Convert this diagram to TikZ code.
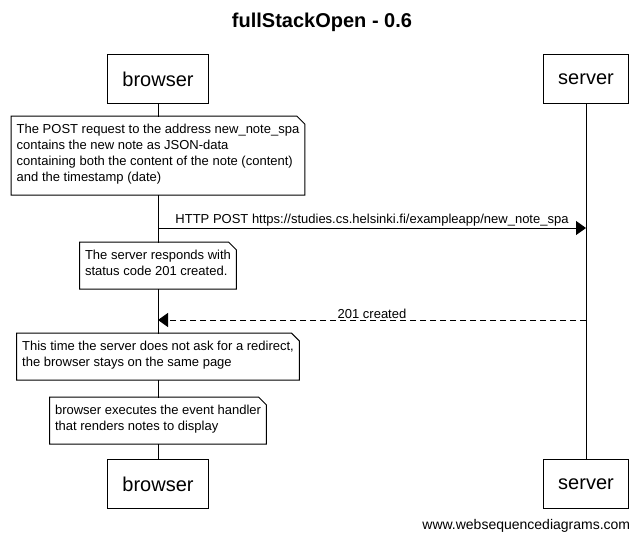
\documentclass[tikz,border=0pt]{standalone}
\usepackage{fontspec}
\setmainfont[Ligatures=NoCommon]{Liberation Sans}
\usetikzlibrary{arrows.meta}

\tikzset{
  actor/.style={draw, fill=white, inner xsep=15pt, minimum height=49pt, font=\fontsize{20}{24}\selectfont},
  note/.style={fill=white, anchor=north, align=left, inner xsep=5pt, inner ysep=8pt,
    font=\fontsize{13}{16}\selectfont, execute at begin node=\strut, execute at end node=\strut},
  msg/.style={-{Triangle[length=10pt, width=14pt]}},
  reply/.style={msg, dash pattern=on 6pt off 4pt},
  msglabel/.style={above, inner sep=1pt, font=\fontsize{13}{16}\selectfont},
}

\begin{document}
\begin{tikzpicture}[x=1pt, y=-1pt, line width=1pt]
    \useasboundingbox (0,0) rectangle (644,541);
    \node (title) at (322,22){\fontsize{20}{24}\selectfont\bfseries fullStackOpen - 0.6};
    % participants
    \node[actor, anchor=north] (B) at (158,54){browser};
    \node[actor, anchor=north] (S) at (586,54){server};
    \node[actor, anchor=north] (B2) at (158,459){browser};
    \node[actor, anchor=north] (S2) at (586,459){server};
    \draw (B)--(B2);
    \draw (S)--(S2);
    % notes over browser
    \node[note] (n1) at (158,116){The POST request to the address new\_note\_spa\\contains the new note as JSON-data\\containing both the content of the note (content)\\and the timestamp (date)};
    \node[note] (n2) at (158,242){The server responds with\\status code 201 created.};
    \node[note] (n3) at (158,333){This time the server does not ask for a redirect,\\the browser stays on the same page};
    \node[note] (n4) at (158,397){browser executes the event handler\\that renders notes to display};
    \foreach \n in {n1,n2,n3,n4}
      \draw ([xshift=-8pt]\n.north east) -- (\n.north west) -- (\n.south west) -- (\n.south east) -- ([yshift=-8pt]\n.north east) -- cycle;
    % messages
    \coordinate (B1) at (158,228);
    \coordinate (S1) at (586,228);
    \coordinate (B3) at (158,320);
    \coordinate (S3) at (586,320);
    \draw[msg] (B1)--(S1) node[midway, msglabel]{HTTP POST https://studies.cs.helsinki.fi/exampleapp/new\_note\_spa};
    \draw[reply] (S3)--(B3) node[midway, msglabel]{201 created};
    \node[anchor=east, font=\fontsize{14}{17}\selectfont] (credit) at (634,526){www.websequencediagrams.com};
  \end{tikzpicture}
\end{document}
